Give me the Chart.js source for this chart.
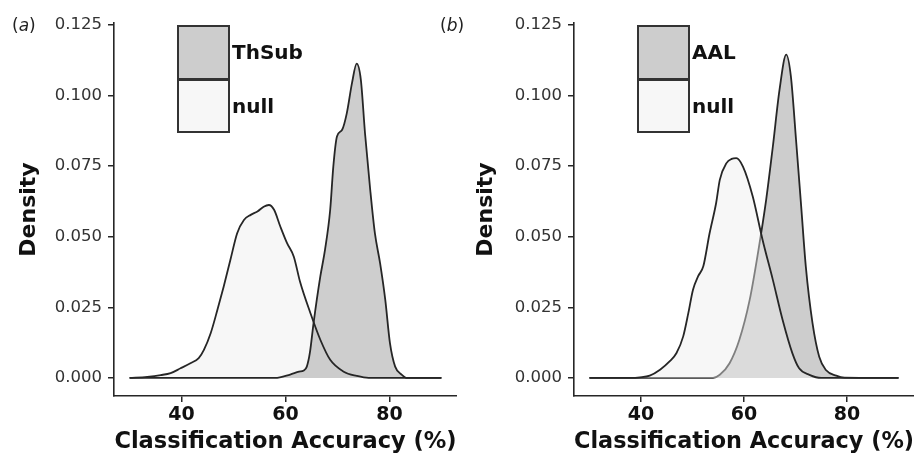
<!DOCTYPE html>
<html>
<head>
<meta charset="utf-8">
<script src="https://cdn.jsdelivr.net/npm/chart.js@4.4.1/dist/chart.umd.min.js"></script>
<style>
  html, body { margin: 0; padding: 0; background: #fff; }
  body { width: 914px; height: 457px; position: relative; overflow: hidden; font-family: 'DejaVu Sans', sans-serif; }
  .panel { position: absolute; top: 0; width: 457px; height: 457px; }
  .tag { position: absolute; font-size: 17px; color: #222; line-height: 20px; }
  .sw { position: absolute; width: 53px; box-sizing: border-box; border: 2px solid #333; }
  .lab { position: absolute; display: flex; align-items: center; font-size: 20px; font-weight: bold; color: #111; }
</style>
</head>
<body>
<div class="panel" style="left:0"><canvas id="chartA" width="457" height="457"></canvas></div>
<div class="panel" style="left:457px"><canvas id="chartB" width="457" height="457"></canvas></div>

<div class="tag" style="left:12px;top:15px">(<i>a</i>)</div>
<div class="tag" style="left:440px;top:15px">(<i>b</i>)</div>

<div class="sw" style="left:177px;top:25px;height:55px;background:#cdcdcd"></div>
<div class="sw" style="left:177px;top:79px;height:54px;background:#f7f7f7"></div>
<div class="lab" style="left:232px;top:25px;height:54px">ThSub</div>
<div class="lab" style="left:232px;top:79px;height:53px">null</div>

<div class="sw" style="left:637px;top:25px;height:55px;background:#cdcdcd"></div>
<div class="sw" style="left:637px;top:79px;height:54px;background:#f7f7f7"></div>
<div class="lab" style="left:692px;top:25px;height:54px">AAL</div>
<div class="lab" style="left:692px;top:79px;height:53px">null</div>

<script>
Chart.defaults.font.family = "'DejaVu Sans', sans-serif";

// panel (a): ThSub vs null
const thsubX = [30, 58, 60.9, 62.6, 63.5, 64.1, 64.7, 65.4, 66.7, 67.6, 68.6, 69.2, 69.9, 70.9, 71.8, 72.8, 73.7, 74.5, 75.3, 76.3, 77.2, 78.2, 79.2, 80.1, 81.1, 82.4, 83.4, 90];
const thsubY = [0, 0, 0.0012, 0.0022, 0.0026, 0.0040, 0.0090, 0.0194, 0.0359, 0.0453, 0.0595, 0.0748, 0.0854, 0.0878, 0.0937, 0.1044, 0.1112, 0.1055, 0.0866, 0.0666, 0.0512, 0.0406, 0.0276, 0.0123, 0.0040, 0.0011, 0, 0];
const nullAX = [30, 33.4, 36, 37.9, 39.8, 41.7, 43.3, 44.3, 45.6, 46.9, 48.1, 49.4, 50.7, 52.0, 53.3, 54.6, 55.8, 56.8, 57.8, 59.0, 60.3, 61.6, 62.8, 64.8, 66.7, 68.6, 71.2, 73.7, 76, 90];
const nullAY = [0, 0.0004, 0.0010, 0.0017, 0.0034, 0.0052, 0.0070, 0.0099, 0.0158, 0.0241, 0.0323, 0.0418, 0.0512, 0.0559, 0.0577, 0.0589, 0.0606, 0.0612, 0.0595, 0.0536, 0.0477, 0.0429, 0.0340, 0.0229, 0.0135, 0.0064, 0.0022, 0.0007, 0, 0];

// panel (b): AAL vs null
const aalX = [30, 54, 55.3, 57.2, 59.1, 61.1, 62.7, 64.3, 65.6, 66.9, 68.2, 69.1, 70.1, 71.1, 72.0, 73.3, 74.6, 75.9, 77.9, 79.5, 90];
const aalY = [0, 0, 0.0011, 0.0052, 0.0135, 0.0276, 0.0441, 0.0630, 0.0819, 0.1020, 0.1144, 0.1067, 0.0843, 0.0607, 0.0394, 0.0194, 0.0075, 0.0028, 0.0008, 0.0001, 0];
const nullBX = [30, 38, 39.8, 41.7, 43.7, 45.6, 46.9, 48.2, 49.2, 50.1, 51.1, 52.1, 53.3, 54.6, 55.3, 56.6, 57.6, 58.5, 59.8, 61.7, 63.6, 65.6, 67.5, 69.4, 70.7, 72.7, 75, 90];
const nullBY = [0, 0, 0.0002, 0.0008, 0.0029, 0.0059, 0.0088, 0.0147, 0.0230, 0.0312, 0.0360, 0.0395, 0.0510, 0.0620, 0.0701, 0.0760, 0.0775, 0.0778, 0.0748, 0.0642, 0.0489, 0.0347, 0.0205, 0.0087, 0.0034, 0.0011, 0, 0];

const xTicks = [40, 60, 80];
const yTicks = [0, 0.025, 0.05, 0.075, 0.1, 0.125];
const xTitle = 'Classification Accuracy (%)';
const yTitle = 'Density';

const lineColor = '#262626';

function pts(xs, ys) {
    return xs.map((x, i) => ({ x, y: ys[i] }));
}

function fillSet(xs, ys, color, order) {
    return { data: pts(xs, ys), fill: 'origin', backgroundColor: color, borderWidth: 0, order };
}

function lineSet(xs, ys, color, order) {
    return { data: pts(xs, ys), fill: false, borderColor: color, borderWidth: 1.8, order };
}

function makeChart(id, datasets, yWidth) {
    const ctx = document.getElementById(id).getContext('2d');
    return new Chart(ctx, {
        type: 'line',
        data: { datasets },
        options: {
            responsive: false,
            animation: false,
            layout: { padding: { top: 23, right: 0, bottom: 0, left: 0 } },
            elements: {
                point: { radius: 0 },
                line: { cubicInterpolationMode: 'monotone' }
            },
            plugins: {
                legend: { display: false },
                tooltip: { enabled: false }
            },
            scales: {
                x: {
                    type: 'linear',
                    min: 27,
                    max: 93,
                    afterBuildTicks: s => { s.ticks = xTicks.map(v => ({ value: v })); },
                    afterFit: s => { s.height = 61; },
                    border: { color: lineColor, width: 1.6 },
                    grid: { drawOnChartArea: false, drawTicks: true, tickLength: 6, color: lineColor, lineWidth: 1.5 },
                    ticks: { color: '#111', padding: 2, font: { size: 19, weight: 'bold' } },
                    title: { display: true, text: xTitle, color: '#111', font: { size: 22.5, weight: 'bold' }, padding: { top: 0, bottom: 1.5 } }
                },
                y: {
                    type: 'linear',
                    min: -0.0064,
                    max: 0.1256,
                    afterBuildTicks: s => { s.ticks = yTicks.map(v => ({ value: v })); },
                    afterFit: s => { s.width = yWidth; },
                    border: { color: lineColor, width: 1.6 },
                    grid: { drawOnChartArea: false, drawTicks: true, tickLength: 6, color: lineColor, lineWidth: 1.5 },
                    ticks: { color: '#333', padding: 6, font: { size: 16.5 }, callback: v => v.toFixed(3) },
                    title: { display: true, text: yTitle, color: '#111', font: { size: 22, weight: 'bold' }, padding: { top: 16, bottom: 0 } }
                }
            }
        }
    });
}

makeChart('chartA', [
    lineSet(thsubX, thsubY, lineColor, 0),
    lineSet(nullAX, nullAY, lineColor, 1),
    fillSet(thsubX, thsubY, 'rgba(190,190,190,0.75)', 2),
    fillSet(nullAX, nullAY, '#f7f7f7', 3)
], 114);

makeChart('chartB', [
    lineSet(nullBX, nullBY, lineColor, 0),
    fillSet(nullBX, nullBY, 'rgba(237,237,237,0.45)', 1),
    lineSet(aalX, aalY, lineColor, 2),
    fillSet(aalX, aalY, '#cdcdcd', 3)
], 117);
</script>
</body>
</html>
